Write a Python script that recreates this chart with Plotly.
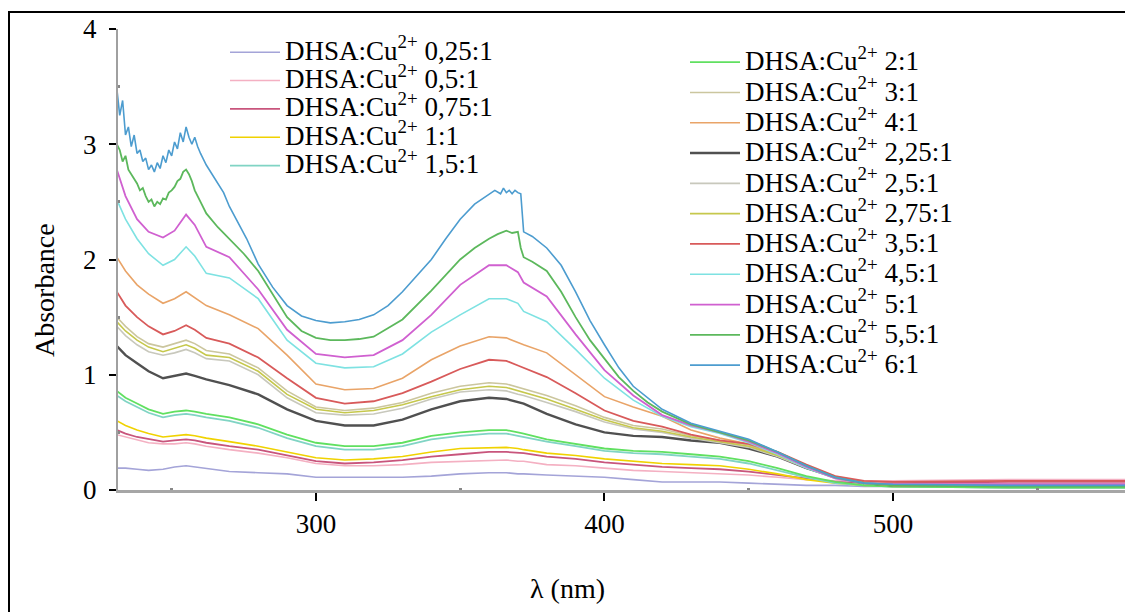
import plotly.graph_objects as go

# ---------------- data ----------------
WL = [231, 234, 238, 242, 247, 251, 255, 258, 262, 270, 280, 290, 300, 310, 320, 330, 340, 350, 360,
      366, 370, 372, 380, 390, 400, 410, 420, 430, 440, 450, 460, 470, 480, 490, 500, 540, 583]

A_025 = [0.19, 0.19, 0.18, 0.17, 0.18, 0.20, 0.21, 0.20, 0.19, 0.16, 0.15, 0.14, 0.11, 0.11, 0.11, 0.11, 0.12, 0.14, 0.15,
         0.15, 0.14, 0.14, 0.13, 0.12, 0.11, 0.09, 0.07, 0.07, 0.07, 0.06, 0.05, 0.04, 0.04, 0.03, 0.03, 0.02, 0.02]
A_05 = [0.48, 0.46, 0.43, 0.41, 0.40, 0.40, 0.41, 0.40, 0.38, 0.35, 0.32, 0.28, 0.23, 0.21, 0.21, 0.22, 0.24, 0.25, 0.26,
        0.26, 0.25, 0.25, 0.22, 0.21, 0.19, 0.17, 0.16, 0.15, 0.14, 0.13, 0.11, 0.09, 0.08, 0.08, 0.08, 0.09, 0.09]
A_075 = [0.52, 0.49, 0.46, 0.44, 0.42, 0.43, 0.44, 0.43, 0.41, 0.38, 0.35, 0.30, 0.25, 0.23, 0.24, 0.26, 0.29, 0.31, 0.33,
         0.33, 0.32, 0.32, 0.29, 0.27, 0.24, 0.22, 0.20, 0.19, 0.18, 0.16, 0.13, 0.10, 0.07, 0.06, 0.06, 0.07, 0.07]
A_1 = [0.60, 0.56, 0.52, 0.49, 0.46, 0.47, 0.48, 0.47, 0.45, 0.42, 0.38, 0.33, 0.28, 0.26, 0.27, 0.29, 0.33, 0.36, 0.37,
       0.37, 0.36, 0.35, 0.32, 0.30, 0.27, 0.25, 0.23, 0.22, 0.21, 0.18, 0.14, 0.09, 0.06, 0.04, 0.03, 0.03, 0.03]
A_15 = [0.82, 0.77, 0.72, 0.67, 0.63, 0.65, 0.66, 0.65, 0.63, 0.60, 0.54, 0.45, 0.38, 0.35, 0.35, 0.38, 0.44, 0.47, 0.49,
        0.49, 0.47, 0.46, 0.42, 0.38, 0.34, 0.32, 0.31, 0.29, 0.27, 0.23, 0.17, 0.11, 0.06, 0.04, 0.03, 0.02, 0.02]
A_2 = [0.86, 0.80, 0.75, 0.70, 0.66, 0.68, 0.69, 0.68, 0.66, 0.63, 0.57, 0.48, 0.41, 0.38, 0.38, 0.41, 0.47, 0.50, 0.52,
       0.52, 0.50, 0.49, 0.44, 0.40, 0.36, 0.34, 0.33, 0.31, 0.29, 0.25, 0.19, 0.12, 0.07, 0.04, 0.03, 0.02, 0.02]
A_3 = [1.50, 1.42, 1.33, 1.27, 1.24, 1.27, 1.30, 1.27, 1.21, 1.18, 1.06, 0.86, 0.72, 0.69, 0.71, 0.76, 0.84, 0.90, 0.93,
       0.92, 0.89, 0.88, 0.82, 0.73, 0.63, 0.56, 0.53, 0.47, 0.43, 0.39, 0.31, 0.21, 0.12, 0.07, 0.05, 0.05, 0.05]
A_275 = [1.46, 1.38, 1.30, 1.24, 1.20, 1.23, 1.26, 1.23, 1.17, 1.15, 1.03, 0.83, 0.70, 0.67, 0.69, 0.74, 0.81, 0.87, 0.90,
         0.89, 0.86, 0.85, 0.79, 0.70, 0.61, 0.54, 0.51, 0.46, 0.42, 0.38, 0.30, 0.20, 0.11, 0.06, 0.04, 0.04, 0.04]
A_25 = [1.42, 1.34, 1.26, 1.20, 1.17, 1.19, 1.22, 1.19, 1.14, 1.12, 1.00, 0.80, 0.67, 0.65, 0.66, 0.71, 0.79, 0.85, 0.87,
        0.86, 0.83, 0.82, 0.76, 0.68, 0.59, 0.53, 0.50, 0.45, 0.41, 0.37, 0.29, 0.19, 0.11, 0.06, 0.04, 0.04, 0.04]
A_225 = [1.25, 1.17, 1.10, 1.03, 0.97, 0.99, 1.01, 0.99, 0.96, 0.91, 0.83, 0.70, 0.60, 0.56, 0.56, 0.61, 0.70, 0.77, 0.80,
         0.79, 0.76, 0.75, 0.66, 0.57, 0.50, 0.47, 0.46, 0.43, 0.41, 0.36, 0.29, 0.19, 0.11, 0.06, 0.04, 0.04, 0.04]
A_35 = [1.72, 1.60, 1.50, 1.42, 1.35, 1.38, 1.43, 1.39, 1.32, 1.27, 1.15, 0.97, 0.80, 0.75, 0.77, 0.84, 0.94, 1.05, 1.13,
        1.12, 1.08, 1.06, 0.98, 0.84, 0.69, 0.60, 0.55, 0.48, 0.43, 0.40, 0.33, 0.22, 0.12, 0.08, 0.07, 0.08, 0.08]
A_4 = [2.02, 1.90, 1.78, 1.70, 1.62, 1.66, 1.72, 1.67, 1.60, 1.52, 1.40, 1.17, 0.92, 0.87, 0.88, 0.97, 1.13, 1.25, 1.33,
       1.32, 1.28, 1.26, 1.19, 1.00, 0.81, 0.72, 0.64, 0.52, 0.45, 0.40, 0.30, 0.19, 0.11, 0.07, 0.05, 0.05, 0.05]
A_45 = [2.52, 2.35, 2.18, 2.05, 1.95, 2.00, 2.11, 2.03, 1.88, 1.84, 1.66, 1.30, 1.10, 1.06, 1.07, 1.18, 1.37, 1.52, 1.66,
        1.66, 1.62, 1.55, 1.46, 1.22, 0.97, 0.78, 0.64, 0.55, 0.49, 0.41, 0.31, 0.19, 0.10, 0.06, 0.05, 0.04, 0.04]
A_5 = [2.78, 2.55, 2.35, 2.24, 2.19, 2.25, 2.39, 2.30, 2.11, 2.02, 1.74, 1.39, 1.18, 1.15, 1.17, 1.30, 1.52, 1.78, 1.95,
       1.95, 1.89, 1.80, 1.68, 1.35, 1.04, 0.82, 0.65, 0.56, 0.50, 0.42, 0.32, 0.20, 0.10, 0.06, 0.05, 0.05, 0.05]

WL_55 = [231, 232, 233, 234, 235, 236, 237, 238, 239, 240, 241, 242, 243, 244, 245, 246, 247, 248, 249, 250,
         251, 252, 253, 254, 255, 256, 257, 258, 260, 262, 266, 270, 275, 280, 285, 290, 295, 300, 305, 310,
         315, 320, 330, 340, 350, 355, 360, 363, 366, 368, 370, 371, 372, 375, 380, 385, 390, 395, 400, 405,
         410, 415, 420, 430, 440, 450, 460, 470, 480, 490, 500, 540, 583]
A_55 = [3.00, 2.95, 2.85, 2.90, 2.78, 2.74, 2.70, 2.66, 2.60, 2.62, 2.55, 2.50, 2.52, 2.46, 2.50, 2.48, 2.53, 2.52, 2.58, 2.60,
        2.63, 2.68, 2.70, 2.76, 2.78, 2.74, 2.68, 2.60, 2.50, 2.40, 2.28, 2.18, 2.05, 1.90, 1.70, 1.50, 1.38, 1.32, 1.30, 1.30,
        1.31, 1.33, 1.48, 1.73, 2.00, 2.10, 2.18, 2.22, 2.25, 2.23, 2.24, 2.10, 2.02, 1.98, 1.90, 1.72, 1.50, 1.30, 1.14, 0.98,
        0.86, 0.76, 0.68, 0.57, 0.50, 0.43, 0.33, 0.21, 0.11, 0.06, 0.04, 0.03, 0.03]

WL_6 = [231, 232, 233, 234, 235, 236, 237, 238, 239, 240, 241, 242, 243, 244, 245, 246, 247, 248, 249, 250,
        251, 252, 253, 254, 255, 256, 257, 258, 259, 260, 262, 265, 268, 270, 273, 276, 280, 285, 290, 295,
        300, 305, 310, 315, 320, 325, 330, 335, 340, 345, 350, 355, 360, 362, 364, 365, 366, 367, 368, 369,
        370, 371, 372, 375, 380, 385, 390, 395, 400, 405, 410, 415, 420, 430, 440, 450, 460, 470, 480, 490,
        500, 540, 583]
A_6 = [3.48, 3.25, 3.38, 3.08, 3.15, 2.98, 3.08, 2.92, 2.95, 2.85, 2.88, 2.78, 2.82, 2.76, 2.84, 2.79, 2.90, 2.84, 2.95, 2.90,
       3.02, 2.96, 3.10, 3.02, 3.15, 3.06, 3.00, 3.06, 2.98, 2.92, 2.82, 2.70, 2.58, 2.46, 2.32, 2.18, 1.96, 1.76, 1.60, 1.51,
       1.47, 1.45, 1.46, 1.48, 1.52, 1.60, 1.72, 1.86, 2.00, 2.18, 2.35, 2.48, 2.57, 2.60, 2.57, 2.62, 2.58, 2.60, 2.57, 2.60,
       2.58, 2.57, 2.24, 2.20, 2.10, 1.95, 1.72, 1.47, 1.26, 1.06, 0.90, 0.80, 0.70, 0.58, 0.51, 0.44, 0.33, 0.21, 0.11, 0.06,
       0.05, 0.04, 0.04]

LEFT_LABELS = ["0,25:1", "0,5:1", "0,75:1", "1:1", "1,5:1"]
RIGHT_LABELS = ["2:1", "3:1", "4:1", "2,25:1", "2,5:1", "2,75:1", "3,5:1", "4,5:1", "5:1", "5,5:1", "6:1"]

X_TICKS = [300, 400, 500]
Y_TICKS = [0, 1, 2, 3, 4]

# ---------------- styling ----------------
FONT = "Liberation Serif, Times New Roman, Times, serif"

# screen geometry (page has an 8px body margin)
OFF = 8
L, R, T, B = 118, 1133, 29, 490


def px(xs):
    return (xs - L) / (R - L)


def py(ys):
    return (B - ys) / (B - T)


series = [
    (LEFT_LABELS[0], WL, A_025, "#a4a4d8", 1.6, "legend"),
    (LEFT_LABELS[1], WL, A_05, "#f4b0c2", 1.6, "legend"),
    (LEFT_LABELS[2], WL, A_075, "#c8557c", 1.8, "legend"),
    (LEFT_LABELS[3], WL, A_1, "#f0d200", 1.6, "legend"),
    (LEFT_LABELS[4], WL, A_15, "#80d4c4", 1.8, "legend"),
    (RIGHT_LABELS[0], WL, A_2, "#60e060", 1.8, "legend2"),
    (RIGHT_LABELS[1], WL, A_3, "#cbc69e", 1.6, "legend2"),
    (RIGHT_LABELS[2], WL, A_4, "#e9a468", 1.6, "legend2"),
    (RIGHT_LABELS[3], WL, A_225, "#505050", 2.4, "legend2"),
    (RIGHT_LABELS[4], WL, A_25, "#c8c8bc", 1.6, "legend2"),
    (RIGHT_LABELS[5], WL, A_275, "#c6c84c", 1.6, "legend2"),
    (RIGHT_LABELS[6], WL, A_35, "#d85a5a", 1.8, "legend2"),
    (RIGHT_LABELS[7], WL, A_45, "#7ee2e2", 1.6, "legend2"),
    (RIGHT_LABELS[8], WL, A_5, "#d060d0", 1.8, "legend2"),
    (RIGHT_LABELS[9], WL_55, A_55, "#5cb85c", 1.8, "legend2"),
    (RIGHT_LABELS[10], WL_6, A_6, "#4c9ccf", 1.6, "legend2"),
]

fig = go.Figure()
for label, xs, ys, color, w, leg in series:
    fig.add_trace(go.Scatter(
        x=xs, y=ys, mode="lines",
        line=dict(color=color, width=w),
        name='<span style="font-size:27px">DHSA:Cu<sup>2+</sup> ' + label + '</span>',
        legend=leg,
    ))

axis_common = dict(showgrid=False, zeroline=False, mirror=False)
XR = [231.4, 583.2]

fig.update_layout(
    width=1133 - OFF, height=612 - OFF,
    margin=dict(l=L - OFF, r=0, t=T - OFF, b=612 - B),
    paper_bgcolor="white", plot_bgcolor="white",
    font=dict(family=FONT, color="black"),
    showlegend=True,
    xaxis=dict(
        range=XR, tickvals=X_TICKS, ticktext=[str(v) for v in X_TICKS],
        ticks="outside", ticklen=8, tickwidth=2, tickcolor="black",
        showline=True, linecolor="#a6a6a6", linewidth=3,
        tickfont=dict(family=FONT, size=27, color="black"),
        ticklabelstandoff=0,
        minor=dict(tickvals=[250, 350, 450, 550], ticks="inside", ticklen=2, tickwidth=3, tickcolor="#888"),
        **axis_common,
    ),
    yaxis=dict(
        range=[0, 4], tickvals=Y_TICKS, ticktext=[str(v) for v in Y_TICKS],
        ticks="outside", ticklen=7, tickwidth=2, tickcolor="black",
        showline=True, linecolor="#a0a0a0", linewidth=2,
        tickfont=dict(family=FONT, size=27, color="black"),
        ticklabelstandoff=7,
        minor=dict(tickvals=[0.5, 1.5, 2.5, 3.5], ticks="inside", ticklen=2, tickwidth=3, tickcolor="#888"),
        **axis_common,
    ),
    xaxis2=dict(
        overlaying="x", anchor="y", side="bottom", range=XR, tickvals=X_TICKS,
        ticks="inside", ticklen=7, tickwidth=2, tickcolor="black", showticklabels=False,
        showline=False, **axis_common,
    ),
    yaxis2=dict(
        overlaying="y", anchor="x", side="left", range=[0, 4], tickvals=Y_TICKS,
        ticks="inside", ticklen=7, tickwidth=2, tickcolor="black", showticklabels=False,
        showline=False, **axis_common,
    ),
    legend=dict(
        x=px(225), y=py(33), xanchor="left", yanchor="top",
        bgcolor="rgba(0,0,0,0)", borderwidth=0, itemwidth=50,
        font=dict(family=FONT, size=19.5, color="black"),
    ),
    legend2=dict(
        x=px(685), y=py(42), xanchor="left", yanchor="top",
        bgcolor="rgba(0,0,0,0)", borderwidth=0, itemwidth=50,
        font=dict(family=FONT, size=21, color="black"),
    ),
    annotations=[
        dict(text="Absorbance", xref="paper", yref="paper", x=px(45), y=py(290),
             textangle=-90, showarrow=False, xanchor="center", yanchor="middle",
             font=dict(family=FONT, size=28, color="black")),
        dict(text="λ (nm)", xref="paper", yref="paper", x=px(567), y=py(588),
             showarrow=False, xanchor="center", yanchor="middle",
             font=dict(family=FONT, size=28, color="black")),
    ],
    shapes=[
        dict(type="rect", xref="paper", yref="paper", x0=px(9), x1=px(1160),
             y0=py(640), y1=py(12), line=dict(color="black", width=2), layer="below"),
    ],
)

fig.write_html("out.html")
